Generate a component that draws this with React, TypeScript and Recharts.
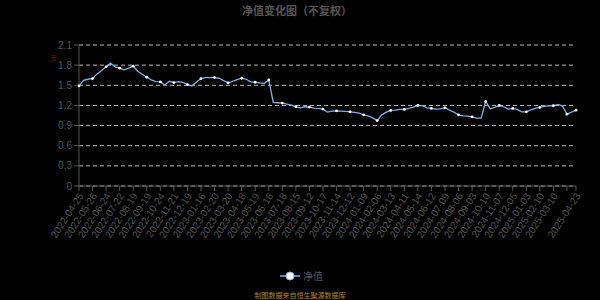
import React from "react";
import { LineChart, Line, XAxis, YAxis, CartesianGrid } from "recharts";

const navValues: number[] = [
  1.49, 1.575, 1.59, 1.6, 1.67, 1.72, 1.775, 1.83, 1.775, 1.755,
  1.73, 1.755, 1.785, 1.71, 1.665, 1.62, 1.58, 1.555, 1.55, 1.505,
  1.56, 1.54, 1.555, 1.545, 1.51, 1.49, 1.55, 1.6, 1.615, 1.615,
  1.615, 1.605, 1.57, 1.535, 1.56, 1.585, 1.605, 1.59, 1.55, 1.545,
  1.535, 1.53, 1.58, 1.245, 1.24, 1.235, 1.22, 1.205, 1.18, 1.165,
  1.18, 1.175, 1.16, 1.155, 1.145, 1.1, 1.115, 1.12, 1.115, 1.11,
  1.105, 1.095, 1.085, 1.06, 1.045, 1.015, 0.975, 1.06, 1.1, 1.125,
  1.13, 1.14, 1.14, 1.155, 1.175, 1.2, 1.195, 1.165, 1.155, 1.145,
  1.15, 1.165, 1.13, 1.1, 1.06, 1.045, 1.04, 1.03, 1.01, 1.01,
  1.26, 1.15, 1.17, 1.2, 1.18, 1.145, 1.155, 1.14, 1.105, 1.105,
  1.135, 1.155, 1.17, 1.185, 1.195, 1.195, 1.215, 1.19, 1.07, 1.1,
  1.13,
];

const tickLabels: string[] = [
  "2022-04-25", "2022-05-26", "2022-06-24", "2022-07-22", "2022-08-19", "2022-09-19",
  "2022-10-24", "2022-11-21", "2022-12-19", "2023-01-16", "2023-02-20", "2023-03-20",
  "2023-04-18", "2023-05-19", "2023-06-16", "2023-07-18", "2023-08-15", "2023-09-12",
  "2023-10-17", "2023-11-14", "2023-12-12", "2024-01-09", "2024-02-06", "2024-03-13",
  "2024-04-11", "2024-05-14", "2024-06-12", "2024-07-09", "2024-08-06", "2024-09-03",
  "2024-10-10", "2024-11-07", "2024-12-05", "2025-01-03", "2025-02-10", "2025-03-10",
  "", "2025-04-23",
];

const yTicks: number[] = [0, 0.3, 0.6, 0.9, 1.2, 1.5, 1.8, 2.1];

const STEP = 3;
const lastIndex = navValues.length - 1;
const tickIndices = tickLabels.map((_, k) => (k < tickLabels.length - 1 ? k * STEP : lastIndex));
const labelByIndex: Record<number, string> = {};
tickIndices.forEach((idx, k) => {
  labelByIndex[idx] = tickLabels[k];
});

const data = navValues.map((v, i) => ({ i, nav: v }));

const FONT = "'Liberation Sans', 'Noto Sans CJK SC', sans-serif";
const CJK = "'Noto Sans CJK SC', 'Liberation Sans', sans-serif";

const XTick = (props: any) => {
  const { x, y, payload } = props;
  const label = labelByIndex[payload.value] ?? "";
  if (!label) return <g />;
  return (
    <text
      x={x + 2}
      y={y}
      transform={`rotate(-57 ${x + 2} ${y})`}
      textAnchor="end"
      dy="0.35em"
      fill="#555"
      fontSize={10}
      fontFamily={FONT}
    >
      {label}
    </text>
  );
};

const renderDot = (props: any) => {
  const { cx, cy, index } = props;
  if (index % STEP === 0 || index === lastIndex) {
    return <circle key={`d${index}`} cx={cx} cy={cy} r={1.4} fill="#ffffff" stroke="none" />;
  }
  return <g key={`d${index}`} />;
};

export default function App() {
  return (
    <div
      style={{
        position: "absolute",
        left: 0,
        top: 0,
        width: 600,
        height: 300,
        background: "#000",
        overflow: "hidden",
      }}
    >
      <div
        style={{
          position: "absolute",
          left: 0,
          top: 2,
          width: 594,
          textAlign: "center",
          fontFamily: CJK,
          fontSize: 11,
          fontWeight: "bold",
          color: "#555",
        }}
      >
        净值变化图（不复权）
      </div>
      <div
        style={{
          position: "absolute",
          left: 50,
          top: 54,
          fontFamily: CJK,
          fontSize: 6,
          lineHeight: "8px",
          color: "#a00000",
        }}
      >
        元
      </div>
      <LineChart
        width={600}
        height={300}
        data={data}
        margin={{ top: 45, right: 24, left: 0, bottom: 54 }}
      >
        <CartesianGrid vertical={false} stroke="#bbbbbb" strokeDasharray="4 3" />
        <XAxis
          dataKey="i"
          type="number"
          domain={[0, lastIndex]}
          ticks={tickIndices}
          interval={0}
          height={60}
          tick={<XTick />}
          tickSize={5}
          tickMargin={3}
          stroke="#555"
          axisLine={{ stroke: "#555" }}
          tickLine={{ stroke: "#555" }}
          allowDecimals={false}
        />
        <YAxis
          type="number"
          domain={[0, 2.1]}
          ticks={yTicks}
          interval={0}
          width={79}
          tickSize={5}
          tickMargin={2}
          axisLine={{ stroke: "#555" }}
          tickLine={{ stroke: "#555" }}
          tick={{ fill: "#555", fontSize: 10, fontFamily: FONT }}
        />
        <Line
          type="linear"
          dataKey="nav"
          stroke="#86afe0"
          strokeWidth={1.3}
          dot={renderDot}
          activeDot={false}
          isAnimationActive={false}
        />
      </LineChart>
      <div
        style={{
          position: "absolute",
          left: 280,
          top: 270,
          height: 12,
          display: "flex",
          alignItems: "center",
        }}
      >
        <svg width={20} height={12}>
          <line x1={0} y1={6} x2={20} y2={6} stroke="#86afe0" strokeWidth={1.5} />
          <circle cx={10} cy={6} r={4} fill="#ffffff" stroke="#86afe0" strokeWidth={1} />
        </svg>
        <span
          style={{
            marginLeft: 3,
            fontFamily: CJK,
            fontSize: 10,
            color: "#555",
            lineHeight: "12px",
          }}
        >
          净值
        </span>
      </div>
      <div
        style={{
          position: "absolute",
          left: 0,
          top: 290,
          width: 600,
          textAlign: "center",
          fontFamily: CJK,
          fontSize: 7,
          color: "#b8862b",
        }}
      >
        制图数据来自恒生聚源数据库
      </div>
    </div>
  );
}
